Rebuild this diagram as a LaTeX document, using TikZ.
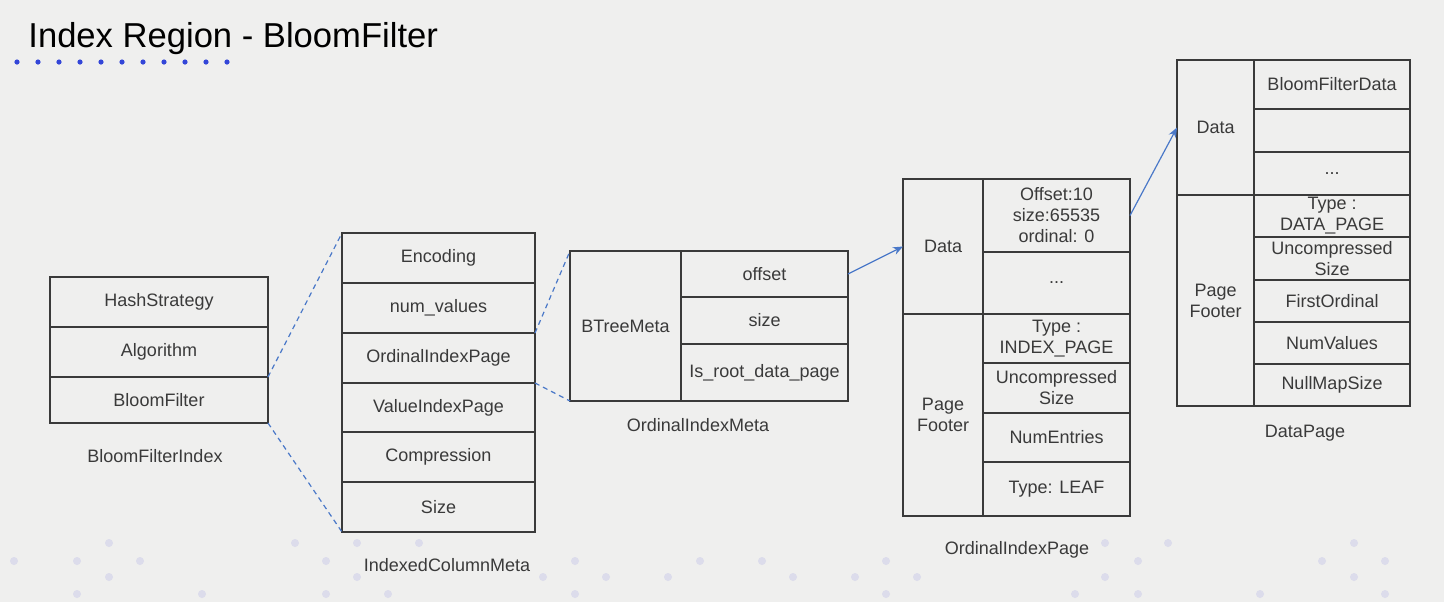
\documentclass[tikz,border=0pt]{standalone}
\usepackage{fontspec}
\setmainfont{Liberation Sans}
\usetikzlibrary{arrows.meta, positioning, calc}
\definecolor{slidebg}{HTML}{EFEFEE}
\definecolor{slideblue}{HTML}{3346D8}
\definecolor{linkblue}{HTML}{4A78C8}
\definecolor{inkgray}{HTML}{3A3A3A}
\definecolor{dotgray}{HTML}{DCDCEB}

\begin{document}
\begin{tikzpicture}[
    x=0.5pt, y=-0.5pt,
    node distance=0pt,
    field/.style={rectangle, draw=inkgray, line width=0.6pt, text=inkgray, inner sep=0pt, outer sep=0pt, align=center, font=\fontsize{9}{10.5}\selectfont, minimum width=#1},
    caption/.style={text=inkgray, inner sep=0pt, font=\fontsize{9}{10.5}\selectfont},
    link/.style={draw=linkblue, dash pattern=on 2.5pt off 2pt, line width=0.6pt},
    arrow/.style={-{Stealth[length=5pt, width=4pt]}, draw=linkblue, line width=0.6pt}
]

% Background
\fill[slidebg] (0,0) rectangle (1444,602);
\useasboundingbox (0,0) rectangle (1444,602);
\foreach \x/\y in {109/543, 295/543, 357/543, 419/543, 1105/543, 1168/543, 1354/543,
                   14/561, 77/561, 140/561, 326/561, 575/561, 700/561, 762/561, 886/561, 1138/561, 1322/561, 1385/561,
                   109/577, 357/577, 543/577, 606/577, 668/577, 793/577, 855/577, 917/577, 1105/577, 1354/577,
                   77/594, 202/594, 326/594, 388/594, 575/594, 886/594, 1075/594, 1138/594, 1260/594, 1385/594}
    \fill[dotgray] (\x,\y) circle (2pt);

% Title
\node[anchor=base west, inner sep=0pt, font=\fontsize{17.3}{20}\selectfont] (title) at (28,47) {Index Region - BloomFilter};
\foreach \i in {0,...,10}
    \fill[slideblue] (17+21*\i,62) circle (1.3pt);

% BloomFilterIndex
\node[field=109pt, minimum height=25pt, anchor=north west] (hash) at (50,277) {HashStrategy};
\node[field=109pt, minimum height=25pt, below=of hash] (algo) {Algorithm};
\node[field=109pt, minimum height=23pt, below=of algo] (bloom) {BloomFilter};
\node[caption] (bfiCap) at (155,456) {BloomFilterIndex};

% IndexedColumnMeta
\node[field=96.5pt, minimum height=25pt, anchor=north west] (enc) at (342,233) {Encoding};
\node[field=96.5pt, minimum height=25pt, below=of enc] (numval) {num\_values};
\node[field=96.5pt, minimum height=25pt, below=of numval] (ordpage) {OrdinalIndexPage};
\node[field=96.5pt, minimum height=24.5pt, below=of ordpage] (valpage) {ValueIndexPage};
\node[field=96.5pt, minimum height=25pt, below=of valpage] (compr) {Compression};
\node[field=96.5pt, minimum height=25pt, below=of compr] (size) {Size};
\node[caption] (icmCap) at (447,565) {IndexedColumnMeta};

% OrdinalIndexMeta
\node[field=55.5pt, minimum height=75pt, anchor=north west] (btree) at (570,251) {BTreeMeta};
\node[field=83.5pt, minimum height=23pt, anchor=north west] (offset) at (btree.north east) {offset};
\node[field=83.5pt, minimum height=23.5pt, below=of offset] (bsize) {size};
\node[field=83.5pt, minimum height=28.5pt, below=of bsize] (isroot) {Is\_root\_data\_page};
\node[caption] (oimCap) at (698,425) {OrdinalIndexMeta};

% OrdinalIndexPage
\node[field=40pt, minimum height=67.5pt, anchor=north west] (oipData) at (903,179) {Data};
\node[field=40pt, minimum height=101pt, below=of oipData] (oipFooter) {Page\\Footer};
\node[field=73.5pt, minimum height=36.5pt, anchor=north west] (entry) at (oipData.north east) {Offset:10\\size:65535\\ordinal: 0};
\node[field=73.5pt, minimum height=31pt, below=of entry] (oipMore) {...};
\node[field=73.5pt, minimum height=24.5pt, below=of oipMore] (oipType) {Type~:\\INDEX\_PAGE};
\node[field=73.5pt, minimum height=25pt, below=of oipType] (oipUncomp) {Uncompressed\\Size};
\node[field=73.5pt, minimum height=24.5pt, below=of oipUncomp] (nument) {NumEntries};
\node[field=73.5pt, minimum height=27pt, below=of nument] (leaf) {Type: LEAF};
\node[caption] (oipCap) at (1017,550) {OrdinalIndexPage};

% DataPage
\node[field=38.5pt, minimum height=67.5pt, anchor=north west] (dpData) at (1177,60) {Data};
\node[field=38.5pt, minimum height=105.5pt, below=of dpData] (dpFooter) {Page\\Footer};
\node[field=78pt, minimum height=24.5pt, anchor=north west] (bfdata) at (dpData.north east) {BloomFilterData};
\node[field=78pt, minimum height=21.5pt, below=of bfdata] (dpBlank) {};
\node[field=78pt, minimum height=21.5pt, below=of dpBlank] (dpMore) {...};
\node[field=78pt, minimum height=21pt, below=of dpMore] (dpType) {Type~:\\DATA\_PAGE};
\node[field=78pt, minimum height=21.5pt, below=of dpType] (dpUncomp) {Uncompressed\\Size};
\node[field=78pt, minimum height=21pt, below=of dpUncomp] (firstord) {FirstOrdinal};
\node[field=78pt, minimum height=21pt, below=of firstord] (numvals) {NumValues};
\node[field=78pt, minimum height=21pt, below=of numvals] (nullmap) {NullMapSize};
\node[caption] (dpCap) at (1305,433) {DataPage};

% Links
\draw[link] (bloom.north east) -- (enc.north west);
\draw[link] (bloom.south east) -- (size.south west);
\draw[link] (ordpage.north east) -- (btree.north west);
\draw[link] (valpage.north east) -- (btree.south west);

% Arrows
\draw[arrow] (offset.east) -- (oipData.west);
\draw[arrow] (entry.east) -- (dpData.west);

\end{tikzpicture}
\end{document}
